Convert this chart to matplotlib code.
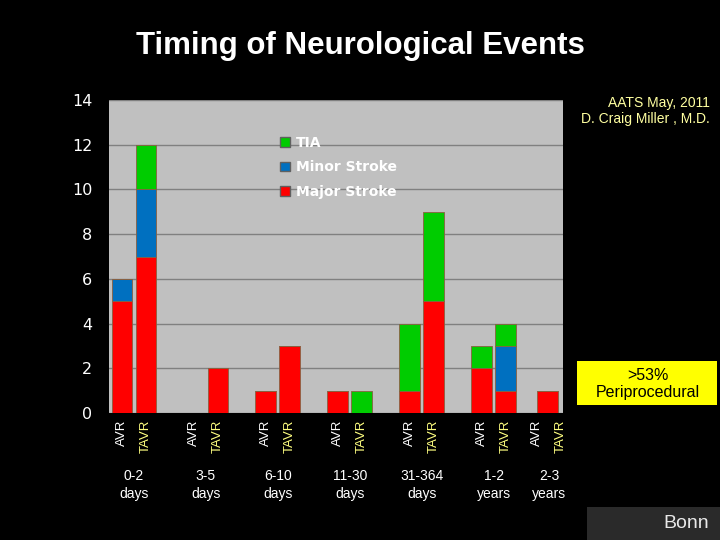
import matplotlib.pyplot as plt
import numpy as np
from matplotlib.patches import Rectangle, Patch

# Number of events per period
periods = ['0-2\ndays', '3-5\ndays', '6-10\ndays', '11-30\ndays', '31-364\ndays', '1-2\nyears', '2-3\nyears']
centers = [1, 4, 7, 10, 13, 16, 17.75]
label_centers = [1, 4, 7, 10, 13, 16, 18.3]

avr_major = [5, 0, 1, 1, 1, 2, 0]
avr_minor = [1, 0, 0, 0, 0, 0, 0]
avr_tia = [0, 0, 0, 0, 3, 1, 0]

tavr_major = [7, 2, 3, 0, 5, 1, 1]
tavr_minor = [3, 0, 0, 0, 0, 2, 0]
tavr_tia = [2, 0, 0, 1, 4, 1, 0]

c_major = '#ff0000'
c_minor = '#0070c0'
c_tia = '#00cc00'

fig = plt.figure(figsize=(7.2, 5.4), dpi=100, facecolor='black')
ax = fig.add_axes([109 / 720, 127 / 540, 454 / 720, 313 / 540])
ax.set_facecolor('#c0c0c0')

x = np.array(centers)
w = 0.87
edge = dict(edgecolor='#8a6040', linewidth=0.6)
for off, major, minor, tia in [(-0.5, avr_major, avr_minor, avr_tia),
                               (0.5, tavr_major, tavr_minor, tavr_tia)]:
    major = np.array(major)
    minor = np.array(minor)
    tia = np.array(tia)
    ax.bar(x + off, major, w, color=c_major, zorder=3, **edge)
    ax.bar(x + off, minor, w, bottom=major, color=c_minor, zorder=3, **edge)
    ax.bar(x + off, tia, w, bottom=major + minor, color=c_tia, zorder=3, **edge)

ax.set_xlim(-0.04, 18.88)
ax.set_ylim(0, 14)
ax.set_yticks(range(0, 15, 2))
ax.yaxis.grid(True, color='#808080', linewidth=1, zorder=0)
ax.set_xticks([])
for s in ax.spines.values():
    s.set_visible(False)
ax.tick_params(axis='y', length=0, pad=12, labelcolor='white', labelsize=11.5)

# bar and period labels below the axis
for c, p in zip(label_centers, periods):
    ax.text(c - 0.5, -0.3, 'AVR', rotation=90, ha='center', va='top', color='white',
            fontsize=9.5, family='Liberation Sans')
    ax.text(c + 0.5, -0.3, 'TAVR', rotation=90, ha='center', va='top', color='#ffff80',
            fontsize=9.5, family='Liberation Sans')
    ax.text(c, -2.5, p, ha='center', va='top', color='white', fontsize=10,
            family='Liberation Sans', linespacing=1.35)

handles = [Patch(facecolor=c_tia, edgecolor='#606060', label='TIA'),
           Patch(facecolor=c_minor, edgecolor='#606060', label='Minor Stroke'),
           Patch(facecolor=c_major, edgecolor='#606060', label='Major Stroke')]
ax.legend(handles=handles, loc='upper left', bbox_to_anchor=(0.35, 0.925), frameon=False,
          labelcolor='white', prop={'size': 10, 'weight': 'bold'}, handlelength=0.7,
          handleheight=0.7, handletextpad=0.4, labelspacing=0.75)

fig.text(0.5, 1 - 46 / 540, 'Timing of Neurological Events', ha='center', va='center',
         color='white', fontsize=22.5, fontweight='bold', family='Liberation Sans')
fig.text(710 / 720, 1 - 96 / 540, 'AATS May, 2011\nD. Craig Miller , M.D.', ha='right', va='top',
         color='#ffffa0', fontsize=10, family='Liberation Sans', linespacing=1.15)

fig.patches.append(Rectangle((577 / 720, 1 - 405 / 540), 140 / 720, 44 / 540,
                             transform=fig.transFigure, facecolor='#ffff00', edgecolor='none'))
fig.text(648 / 720, 1 - 384 / 540, '>53%\nPeriprocedural', ha='center', va='center',
         color='black', fontsize=11.5, family='Liberation Sans', linespacing=1.15)

fig.patches.append(Rectangle((587 / 720, 0), 133 / 720, 33 / 540,
                             transform=fig.transFigure, facecolor='#2a2a2a', edgecolor='none'))
fig.text(709 / 720, 1 - 523 / 540, 'Bonn', ha='right', va='center', color='#e8e8e8',
         fontsize=14, family='Liberation Sans')

fig.savefig('out.png', dpi=100, facecolor='black')
